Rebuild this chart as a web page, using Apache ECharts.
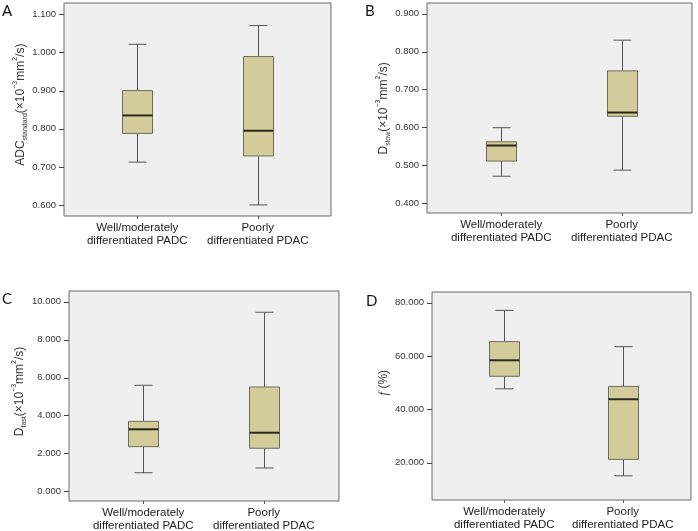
<!DOCTYPE html>
<html>
<head>
<meta charset="utf-8">
<script src="https://cdn.jsdelivr.net/npm/echarts@6/dist/echarts.min.js"></script>
<style>
  html, body { margin: 0; padding: 0; background: #fff; }
  #chart { width: 698px; height: 531px; }
</style>
</head>
<body>
<div id="chart"></div>
<script>
// groups on the x axis (same for every panel)
const groups = ['Well/moderately\ndifferentiated PADC', 'Poorly\ndifferentiated PDAC'];

// box values per group: [min, Q1, median, Q3, max]
const adcStandard = [[0.713, 0.788, 0.835, 0.900, 1.021], [0.601, 0.729, 0.795, 0.989, 1.070]];
const dSlow = [[0.471, 0.511, 0.552, 0.562, 0.599], [0.487, 0.629, 0.639, 0.749, 0.830]];
const dFast = [[0.98, 2.355, 3.27, 3.69, 5.59], [1.23, 2.27, 3.09, 5.50, 9.44]];
const fPercent = [[47.7, 52.4, 58.4, 65.4, 77.1], [15.1, 21.25, 43.8, 48.6, 63.5]];

// y tick labels
const ticksA = [0.6, 0.7, 0.8, 0.9, 1.0, 1.1];
const ticksB = [0.4, 0.5, 0.6, 0.7, 0.8, 0.9];
const ticksC = [0, 2, 4, 6, 8, 10];
const ticksD = [20, 40, 60, 80];

const panelLetters = ['A', 'B', 'C', 'D'];

const nameRich = {
  m: { fontSize: 12, color: '#333', fontFamily: 'Liberation Sans' },
  s: { fontSize: 7, color: '#333', fontFamily: 'Liberation Sans', verticalAlign: 'bottom', padding: [0, 0, -2, 0] },
  p: { fontSize: 7, color: '#333', fontFamily: 'Liberation Sans', verticalAlign: 'top', padding: [-3, 0, 0, 0] },
  i: { fontSize: 13, color: '#333', fontFamily: 'Liberation Serif', fontStyle: 'italic' }
};

const panels = [
  { frame: { left: 64, top: 3, width: 267, height: 213 }, inset: [13, 13], range: [0.572, 1.129], ticks: ticksA,
    name: '{m|ADC}{s|standard}{m|(×10}{p|−3}{m|mm}{p|2}{m|/s)}', gap: 37, shift: 10, data: adcStandard, letter: [2, 4] },
  { frame: { left: 427, top: 3, width: 265, height: 210 }, inset: [14, 10], range: [0.374, 0.928], ticks: ticksB,
    name: '{m|D}{s|slow}{m|(×10}{p|−3}{m|mm}{p|2}{m|/s)}', gap: 36, shift: 0, data: dSlow, letter: [365, 4] },
  { frame: { left: 69, top: 291, width: 270, height: 210 }, inset: [14, 15], range: [-0.51, 10.56], ticks: ticksC,
    name: '{m|D}{s|fast}{m|(×10}{p|−3}{m|mm}{p|2}{m|/s)}', gap: 41, shift: 10, data: dFast, letter: [2, 292] },
  { frame: { left: 432, top: 292, width: 259, height: 208 }, inset: [13, 9], range: [6.03, 83.99], ticks: ticksD,
    name: '{i|f}{m| (%)}', gap: 42, shift: 0, data: fPercent, letter: [366, 294] }
];

function renderBox(params, api) {
  const x = api.value(0);
  const p = [1, 2, 3, 4, 5].map(d => api.coord([x, api.value(d)]));
  const cx = Math.round(p[0][0]) + 0.5;
  const hw = 15, cw = 9;
  const line = (x1, y1, x2, y2, stroke, w) => ({
    type: 'line', shape: { x1, y1, x2, y2 }, style: { stroke, lineWidth: w }
  });
  return {
    type: 'group',
    children: [
      line(cx, p[4][1], cx, p[3][1], '#555', 1),
      line(cx, p[0][1], cx, p[1][1], '#555', 1),
      line(cx - cw, p[4][1], cx + cw, p[4][1], '#555', 1),
      line(cx - cw, p[0][1], cx + cw, p[0][1], '#555', 1),
      { type: 'rect', shape: { x: cx - hw, y: p[3][1], width: 2 * hw, height: p[1][1] - p[3][1] },
        style: { fill: '#d3cc9a', stroke: '#6e6d60', lineWidth: 1 } },
      line(cx - hw, p[2][1], cx + hw, p[2][1], '#2a2a1c', 2)
    ]
  };
}

// short outward tick at each labelled y value
function renderTick(params, api) {
  const pt = api.coord([0, api.value(1)]);
  const y = Math.round(pt[1]) + 0.5;
  return { type: 'line', shape: { x1: pt[0] - 5, y1: y, x2: pt[0], y2: y },
    style: { stroke: '#444', lineWidth: 1 } };
}

const grid = [], xAxis = [], yAxis = [], series = [], title = [];

panels.forEach((pn, k) => {
  const f = pn.frame;
  const span = pn.range[1] - pn.range[0];
  const t0 = pn.ticks[0], t1 = pn.ticks[pn.ticks.length - 1];
  const tickTop = f.top + (pn.range[1] - t1) / span * f.height;
  const tickH = (t1 - t0) / span * f.height;
  const g = 3 * k;

  // frame + data grid (inset horizontally so the boxes sit where the reference has them)
  grid.push({ left: f.left, top: f.top, width: f.width, height: f.height, show: true,
    backgroundColor: '#efefef', borderColor: '#6a6a6a', borderWidth: 1, outerBoundsMode: 'none' });
  grid.push({ left: f.left + pn.inset[0], top: f.top, width: f.width - pn.inset[0] - pn.inset[1],
    height: f.height, outerBoundsMode: 'none' });
  // tick grid spanning first to last labelled tick
  grid.push({ left: f.left, top: tickTop, width: f.width, height: tickH, outerBoundsMode: 'none' });

  xAxis.push({ type: 'value', gridIndex: g, show: false, min: 0, max: 1 });
  xAxis.push({
    type: 'category', gridIndex: g + 1, data: groups, position: 'bottom',
    axisLine: { show: false, onZero: false },
    axisTick: { show: true, alignWithLabel: true, length: 3, lineStyle: { color: '#555' } },
    axisLabel: { interval: 0, fontSize: 11.5, color: '#222', lineHeight: 13, margin: 5, fontFamily: 'Liberation Sans' },
    splitLine: { show: false }
  });
  xAxis.push({ type: 'value', gridIndex: g + 2, show: false, min: 0, max: 1 });

  yAxis.push({ type: 'value', gridIndex: g, show: false, min: 0, max: 1 });
  yAxis.push({ type: 'value', gridIndex: g + 1, min: pn.range[0], max: pn.range[1], show: false });
  yAxis.push({
    type: 'value', gridIndex: g + 2, min: t0, max: t1, interval: pn.ticks[1] - pn.ticks[0], position: 'left',
    axisLine: { show: false, onZero: false },
    splitLine: { show: false },
    axisTick: { show: false },
    axisLabel: { formatter: v => v.toFixed(3), fontSize: 9.5, color: '#333', margin: 8, fontFamily: 'Liberation Sans' },
    name: pn.name, nameLocation: 'middle', nameGap: pn.gap, nameRotate: 90,
    nameTextStyle: { rich: nameRich, padding: [0, 0, 0, pn.shift] }
  });

  series.push({
    type: 'custom', xAxisIndex: g + 1, yAxisIndex: g + 1,
    encode: { x: 0, y: [1, 2, 3, 4, 5] },
    data: pn.data.map((d, i) => [i, ...d]),
    renderItem: renderBox
  });
  series.push({
    type: 'custom', xAxisIndex: g + 2, yAxisIndex: g + 2, silent: true, clip: false, z: 10,
    encode: { x: 0, y: 1 },
    data: pn.ticks.map(v => [0, v]),
    renderItem: renderTick
  });

  title.push({ text: panelLetters[k], left: pn.letter[0], top: pn.letter[1], padding: 0,
    textStyle: { fontSize: 15, fontWeight: 'normal', color: '#111', fontFamily: 'Lato' } });
});

const chart = echarts.init(document.getElementById('chart'));
chart.setOption({ animation: false, title, grid, xAxis, yAxis, series });
</script>
</body>
</html>
